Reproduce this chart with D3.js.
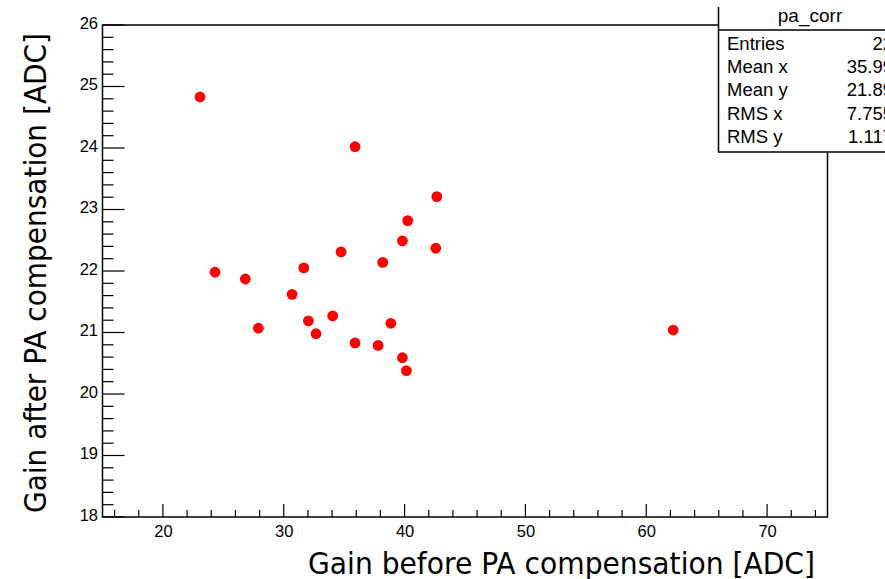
<!DOCTYPE html>
<html>
<head>
<meta charset="utf-8">
<script src="https://cdn.jsdelivr.net/npm/d3@7"></script>
<style>
  html, body { margin: 0; padding: 0; background: #fff; overflow: hidden; }
  svg { display: block; }
</style>
</head>
<body>
<svg id="chart" width="885" height="579"></svg>
<script>
// Gain per channel before and after PA compensation
const gainBefore = [23.07, 35.90, 42.67, 40.26, 39.82, 42.58, 34.74, 38.19, 31.66, 24.31, 26.82,
                    30.69, 34.05, 32.04, 38.86, 27.90, 32.67, 35.90, 37.81, 39.82, 40.15, 62.23];
const gainAfter  = [24.83, 24.02, 23.21, 22.82, 22.49, 22.37, 22.31, 22.14, 22.05, 21.98, 21.87,
                    21.62, 21.27, 21.19, 21.15, 21.07, 20.98, 20.83, 20.79, 20.59, 20.38, 21.04];

const xTicks = [20, 30, 40, 50, 60, 70];
const yTicks = [18, 19, 20, 21, 22, 23, 24, 25, 26];

const statsTitle = "pa_corr";
const statsLabels = ["Entries", "Mean x", "Mean y", "RMS x", "RMS y"];
const statsValues = ["22", "35.99", "21.89", "7.755", "1.117"];

const xTitle = "Gain before PA compensation [ADC]";
const yTitle = "Gain after PA compensation [ADC]";

const svg = d3.select("#chart");
const frame = { left: 102.5, right: 827.5, top: 25, bottom: 517 };

const x = d3.scaleLinear().domain([15, 75]).range([frame.left, frame.right]);
const y = d3.scaleLinear().domain([18, 26]).range([frame.bottom, frame.top]);

const tickFont = "'Liberation Sans', Arial, Helvetica, sans-serif";

// Minor tick positions
const xMinor = d3.range(16, 75, 2).filter(v => v % 10 !== 0);
const yMinor = d3.range(18, 26.001, 0.2).map(v => +v.toFixed(1)).filter(v => Math.abs(v - Math.round(v)) > 1e-6);

// X axis
const gx = svg.append("g").attr("transform", `translate(0,${frame.bottom})`);
gx.call(d3.axisBottom(x).tickValues(xTicks).tickSize(0).tickPadding(0).tickFormat(d3.format("d")));
gx.select(".domain").remove();
gx.selectAll(".tick line").remove();
gx.selectAll(".tick text")
  .attr("y", 19.5).attr("dy", 0)
  .attr("font-family", tickFont).attr("font-size", 16.5).attr("fill", "#000");
gx.selectAll("line.major").data(xTicks).enter().append("line")
  .attr("x1", d => x(d)).attr("x2", d => x(d)).attr("y1", 0).attr("y2", -13)
  .attr("stroke", "#000").attr("stroke-width", 1.2);
gx.selectAll("line.minor").data(xMinor).enter().append("line")
  .attr("x1", d => x(d)).attr("x2", d => x(d)).attr("y1", 0).attr("y2", -7)
  .attr("stroke", "#000").attr("stroke-width", 1.2);

// Y axis
const gy = svg.append("g").attr("transform", `translate(${frame.left},0)`);
gy.call(d3.axisLeft(y).tickValues(yTicks).tickSize(0).tickPadding(0).tickFormat(d3.format("d")));
gy.select(".domain").remove();
gy.selectAll(".tick line").remove();
gy.selectAll(".tick text")
  .attr("x", -4.5).attr("dy", "0.2em")
  .attr("font-family", tickFont).attr("font-size", 16.5).attr("fill", "#000");
gy.selectAll("line.major").data(yTicks).enter().append("line")
  .attr("y1", d => y(d)).attr("y2", d => y(d)).attr("x1", 0).attr("x2", 22)
  .attr("stroke", "#000").attr("stroke-width", 1.2);
gy.selectAll("line.minor").data(yMinor).enter().append("line")
  .attr("y1", d => y(d)).attr("y2", d => y(d)).attr("x1", 0).attr("x2", 11)
  .attr("stroke", "#000").attr("stroke-width", 1.2);

// Frame
svg.append("rect")
  .attr("x", frame.left).attr("y", frame.top)
  .attr("width", frame.right - frame.left).attr("height", frame.bottom - frame.top)
  .attr("fill", "none").attr("stroke", "#000").attr("stroke-width", 1.5);

// Data points
svg.append("g").selectAll("circle")
  .data(gainBefore.map((v, i) => [v, gainAfter[i]]))
  .enter().append("circle")
  .attr("cx", d => x(d[0])).attr("cy", d => y(d[1]))
  .attr("r", 5.4).attr("fill", "#ff0000");

// Axis titles
const titleFont = "'DejaVu Sans', Verdana, sans-serif";
svg.append("text")
  .attr("x", 308).attr("y", 574)
  .attr("font-family", titleFont).attr("font-size", 30)
  .attr("textLength", 507).attr("lengthAdjust", "spacingAndGlyphs")
  .attr("fill", "#000").text(xTitle);
svg.append("text")
  .attr("transform", "translate(46,513) rotate(-90)")
  .attr("font-family", titleFont).attr("font-size", 30)
  .attr("textLength", 480).attr("lengthAdjust", "spacingAndGlyphs")
  .attr("fill", "#000").text(yTitle);

// Statistics box
const box = { left: 718.5, top: 7, sep: 30, bottom: 152, right: 905 };
svg.append("rect")
  .attr("x", box.left).attr("y", box.top - 10)
  .attr("width", box.right - box.left).attr("height", box.bottom - box.top + 10)
  .attr("fill", "#fff").attr("stroke", "none");
svg.append("path")
  .attr("d", `M${box.left},${box.top}V${box.bottom}H${box.right}M${box.left},${box.sep}H${box.right}`)
  .attr("fill", "none").attr("stroke", "#000").attr("stroke-width", 1.5);
svg.append("text")
  .attr("x", 810).attr("y", 22)
  .attr("text-anchor", "middle")
  .attr("font-family", tickFont).attr("font-size", 19).attr("fill", "#000")
  .text(statsTitle);
const rowY = d3.scaleLinear().domain([0, statsLabels.length - 1]).range([49.5, 143]);
svg.append("g").selectAll("text.lbl").data(statsLabels).enter().append("text")
  .attr("x", 727).attr("y", (d, i) => rowY(i))
  .attr("font-family", tickFont).attr("font-size", 18.5).attr("fill", "#000")
  .text(d => d);
svg.append("g").selectAll("text.val").data(statsValues).enter().append("text")
  .attr("x", 893).attr("y", (d, i) => rowY(i))
  .attr("text-anchor", "end")
  .attr("font-family", tickFont).attr("font-size", 18.5).attr("fill", "#000")
  .text(d => d);
</script>
</body>
</html>
